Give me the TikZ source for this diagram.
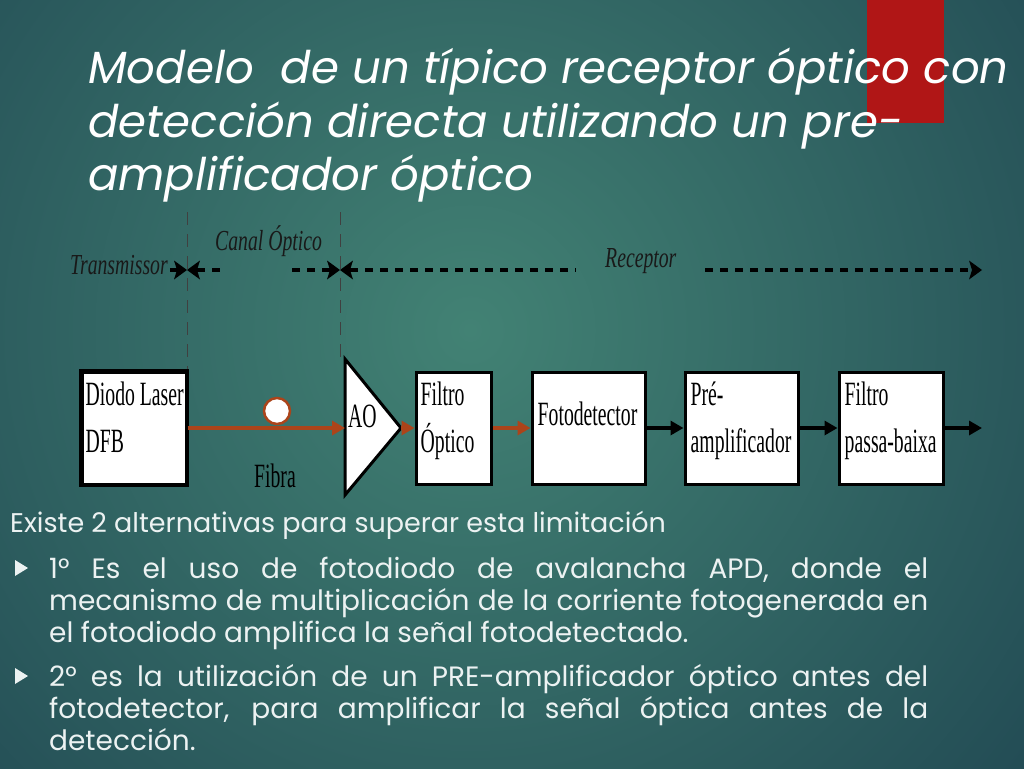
\documentclass[tikz,border=0pt]{standalone}
\usepackage{fontspec}
\setmainfont{Poppins}
\newfontfamily\diagfont[FakeStretch=0.58]{Liberation Serif}
\newfontfamily\lblfont[FakeStretch=0.68]{Liberation Serif}
\usetikzlibrary{arrows.meta,shapes.geometric}
\definecolor{bgin}{RGB}{66,130,116}
\definecolor{bgout}{RGB}{22,54,72}
\definecolor{redbar}{RGB}{176,22,22}
\definecolor{rust}{RGB}{172,68,26}
\definecolor{txt}{RGB}{236,242,242}
\begin{document}
\begin{tikzpicture}[x=1pt,y=-1pt,
  blk/.style={draw=black,line width=3pt,fill=white,minimum width=#1,minimum height=112pt,inner sep=0pt},
  blktext/.style={font=\diagfont\fontsize{34}{47}\selectfont,align=left,inner sep=0pt,anchor=north west},
  lbl/.style={font=\lblfont\itshape\fontsize{29}{32}\selectfont,text=black!90,inner sep=0pt,anchor=base west},
  rustarrow/.style={draw=rust,line width=4pt,-{Triangle[length=13pt,width=14pt]}},
  blackarrow/.style={draw=black,line width=4pt,-{Triangle[length=13pt,width=14pt]}},
  vdash/.style={draw=black!75,line width=1pt,dash pattern=on 13pt off 9pt},
  hdash/.style={draw=black,line width=3.5pt,dash pattern=on 8pt off 7pt},
  head/.tip={Stealth[length=13pt,width=19pt,inset=3pt,line width=0pt]},
  title/.style={font=\itshape\fontsize{45}{54}\selectfont,text=white,inner sep=0pt,anchor=base west},
  body/.style={font=\fontsize{28}{32}\selectfont,text=txt,inner sep=0pt},
]
\useasboundingbox (0,0) rectangle (1024,768);
\begin{scope}
  \clip (0,0) rectangle (1024,768);
  \shade[inner color=bgin,outer color=bgout] (470,330) circle (1000);
\end{scope}

% red bar
\fill[redbar] (867,0) rectangle (944,123);

% title
\node[title] (t1) at (88,83) {Modelo\ \ de un típico receptor óptico con};
\node[title] (t2) at (88,137) {detección directa utilizando un pre-};
\node[title] (t3) at (88,190) {amplificador óptico};

% vertical dashed separators
\coordinate (v1t) at (187,212);
\coordinate (v1b) at (187,372);
\coordinate (v2t) at (340,212);
\coordinate (v2b) at (340,362);
\draw[vdash] (v1t) -- (v1b);
\draw[vdash] (v2t) -- (v2b);

% section labels and dashed arrows
\node[lbl] (ltx) at (70,274) {Transmissor};
\node[lbl] (lch) at (215,250) {Canal Óptico};
\node[lbl] (lrx) at (605,267) {Receptor};
\coordinate (h0) at (170,270);
\coordinate (h1) at (187,270);
\coordinate (h2) at (226,270);
\coordinate (h3) at (292,270);
\coordinate (h4) at (340,270);
\coordinate (h5) at (576,270);
\coordinate (h6) at (705,270);
\coordinate (h7) at (982,270);
\draw[hdash,-head] (h0) -- (h1);
\draw[hdash,head-] (h1) -- (h2);
\draw[hdash,-head] (h3) -- (h4);
\draw[hdash,head-] (h4) -- (h5);
\draw[hdash,-head] (h6) -- (h7);

% blocks
\node[blk=104pt] (dfb) at (134,428) {};
\node[blk=75pt] (fo) at (453.5,428) {};
\node[blk=113pt] (fd) at (588.5,428) {};
\node[blk=113pt] (pre) at (741.5,428) {};
\node[blk=104pt] (fpb) at (891,428) {};
\node[blktext] (dfbt) at ([xshift=5pt,yshift=-11pt]dfb.north west) {Diodo Laser\\DFB};
\node[blktext] (fot) at ([xshift=6pt,yshift=-11pt]fo.north west) {Filtro\\Óptico};
\node[blktext] (fdt) at ([xshift=7pt,yshift=-31pt]fd.north west) {Fotodetector};
\node[blktext] (pret) at ([xshift=7pt,yshift=-11pt]pre.north west) {Pré-\\amplificador};
\node[blktext] (fpbt) at ([xshift=7pt,yshift=-11pt]fpb.north west) {Filtro\\passa-baixa};
\draw[black,line width=3pt] (dfb.north west) rectangle (dfb.south east);

% optical amplifier triangle
\coordinate (aoT) at (345,359);
\coordinate (aoB) at (345,495);
\coordinate (aoL) at (345,428);
\coordinate (aoTip) at (401,428);
\filldraw[fill=white,draw=black,line width=3pt,line join=miter] (aoT) -- (aoTip) -- (aoB) -- cycle;
\node[blktext,anchor=base west] (aot) at (348,427) {AO};

% fibre
\draw[rustarrow] (dfb.east) -- (aoL);
\node[circle,draw=rust,fill=white,line width=2.5pt,minimum size=26pt,inner sep=0pt] (loop) at (277,411) {};
\node[blktext,anchor=base] (fib) at (275,487) {Fibra};

% signal path
\draw[rustarrow] (aoTip) -- (fo.west);
\draw[rustarrow] (fo.east) -- (fd.west);
\draw[blackarrow] (fd.east) -- (pre.west);
\draw[blackarrow] (pre.east) -- (fpb.west);
\coordinate (out) at (982,428);
\draw[blackarrow] (fpb.east) -- (out);

% body text
\node[body,font=\fontsize{27}{32}\selectfont,anchor=base west] (intro) at (10,532) {Existe 2 alternativas para superar esta limitación};
\fill[txt] (15,560) -- (28,568) -- (15,576) -- cycle;
\fill[txt] (15,668) -- (28,676) -- (15,684) -- cycle;
\node[body,anchor=north west,text width=879pt,align=justify] (p1) at (49,555.6)
  {\strut 1° Es el uso de fotodiodo de avalancha APD, donde el\linebreak mecanismo de multiplicación de la corriente fotogenerada en\linebreak el fotodiodo amplifica la señal fotodetectado.};
\node[body,anchor=north west,text width=879pt,align=justify] (p2) at (49,663.6)
  {\strut 2° es la utilización de un PRE-amplificador óptico antes del\linebreak fotodetector, para amplificar la señal óptica antes de la\linebreak detección.};
\end{tikzpicture}
\end{document}
